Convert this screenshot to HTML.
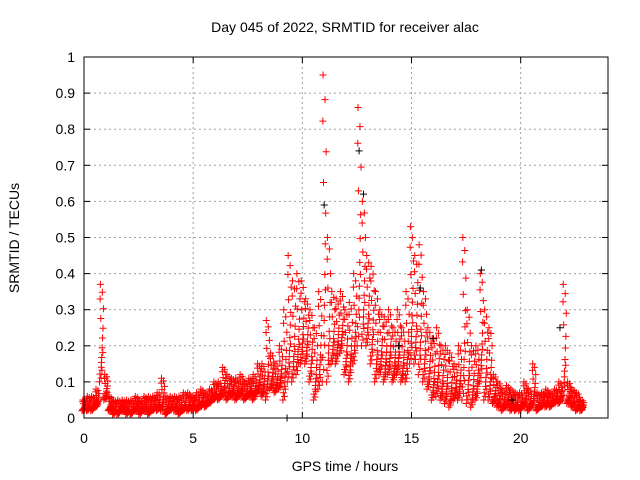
<!DOCTYPE html>
<html><head><meta charset="utf-8"><style>
body{margin:0;background:#fff}
svg{display:block;font-family:"Liberation Sans",sans-serif}
</style></head><body>
<svg id="chart" width="640" height="480">
<rect x="0" y="0" width="640" height="480" fill="#fff"/>
<text x="345" y="32" text-anchor="middle" font-size="14">Day 045 of 2022, SRMTID for receiver alac</text>
<text x="345" y="471" text-anchor="middle" font-size="14">GPS time / hours</text>
<text transform="translate(19,238) rotate(-90)" text-anchor="middle" font-size="14">SRMTID / TECUs</text>
<g id="grid"></g><g id="marks"></g><g id="axes"></g>
</svg>
<script>
const hours=[0,0.2,0.4,0.6,0.8,1.0,1.2,1.4,1.6,1.8,2.0,2.2,2.4,2.6,2.8,3.0,3.2,3.4,3.6,3.8,4.0,4.2,4.4,4.6,4.8,5.0,5.2,5.4,5.6,5.8,6.0,6.2,6.4,6.6,6.8,7.0,7.2,7.4,7.6,7.8,8.0,8.2,8.4,8.6,8.8,9.0,9.2,9.4,9.6,9.8,10.0,10.2,10.4,10.6,10.8,11.0,11.2,11.4,11.6,11.8,12.0,12.2,12.4,12.6,12.8,13.0,13.2,13.4,13.6,13.8,14.0,14.2,14.4,14.6,14.8,15.0,15.2,15.4,15.6,15.8,16.0,16.2,16.4,16.6,16.8,17.0,17.2,17.4,17.6,17.8,18.0,18.2,18.4,18.6,18.8,19.0,19.2,19.4,19.6,19.8,20.0,20.2,20.4,20.6,20.8,21.0,21.2,21.4,21.6,21.8,22.0,22.2,22.4,22.6,22.8];
const lowValues=[.02,.02,.02,.03,.1,.05,.02,.01,.01,.02,.01,.01,.02,.01,.02,.01,.02,.02,.02,.01,.02,.02,.01,.02,.02,.02,.02,.03,.03,.04,.05,.05,.06,.05,.06,.05,.06,.05,.06,.05,.07,.06,.05,.08,.07,.08,.05,.1,.1,.12,.15,.15,.1,.05,.08,.1,.1,.15,.15,.18,.12,.1,.15,.2,.2,.2,.15,.1,.12,.1,.12,.1,.12,.1,.1,.15,.15,.12,.1,.08,.05,.06,.05,.04,.03,.05,.05,.05,.04,.03,.05,.1,.05,.05,.04,.03,.02,.03,.02,.02,.02,.03,.02,.03,.02,.03,.03,.03,.04,.04,.05,.04,.03,.02,.02];
const highValues=[.05,.06,.06,.08,.37,.12,.06,.05,.05,.05,.05,.05,.06,.05,.06,.06,.06,.07,.11,.06,.06,.06,.06,.07,.07,.06,.07,.08,.07,.08,.1,.1,.14,.12,.11,.11,.12,.1,.11,.12,.15,.15,.27,.18,.15,.2,.3,.45,.38,.4,.38,.33,.3,.25,.35,.95,.5,.35,.33,.35,.3,.32,.4,.86,.6,.45,.42,.35,.3,.28,.3,.25,.3,.25,.35,.53,.45,.48,.35,.25,.22,.25,.2,.2,.18,.15,.2,.5,.3,.2,.2,.4,.3,.25,.12,.1,.08,.09,.08,.07,.07,.1,.08,.15,.07,.07,.08,.07,.08,.1,.37,.1,.08,.07,.05];
const blackHours=[9.3,11.0,12.6,12.8,14.4,15.4,16.0,18.2,19.6,21.8];
const blackValues=[0.0,0.59,0.74,0.62,0.2,0.36,0.22,0.41,0.05,0.25];
const xTicks=[0,5,10,15,20];
const yTicks=[0,0.1,0.2,0.3,0.4,0.5,0.6,0.7,0.8,0.9,1];
const L=84,R=608,T=57,B=418;
const X=h=>L+h/24*(R-L), Y=v=>B-v*(B-T);
const NS="http://www.w3.org/2000/svg";
function mk(tag,attrs,parent){const e=document.createElementNS(NS,tag);for(const k in attrs)e.setAttribute(k,attrs[k]);parent.appendChild(e);return e;}
const grid=document.getElementById('grid'),axes=document.getElementById('axes'),marks=document.getElementById('marks');
yTicks.forEach(v=>{const y=Y(v);
 if(v>0&&v<1){const g=mk('line',{x1:L,x2:R,y1:y,y2:y,stroke:'#a0a0a0','stroke-dasharray':'2,3','stroke-width':1},grid);
 
 }
 mk('line',{x1:L,x2:L+6,y1:y,y2:y,stroke:'#000'},axes);
 mk('line',{x1:R,x2:R-6,y1:y,y2:y,stroke:'#000'},axes);
 const t=mk('text',{x:L-9,y:y+5,'text-anchor':'end','font-size':14},axes);t.textContent=String(v);
 
 
});
xTicks.forEach(h=>{const x=X(h);
 if(h>0){const g=mk('line',{x1:x,x2:x,y1:T,y2:B,stroke:'#a0a0a0','stroke-dasharray':'2,3'},grid);
 
 }
 mk('line',{x1:x,x2:x,y1:B,y2:B-6,stroke:'#000'},axes);
 mk('line',{x1:x,x2:x,y1:T,y2:T+6,stroke:'#000'},axes);
 const t=mk('text',{x:x,y:B+25,'text-anchor':'middle','font-size':14},axes);t.textContent=String(h);
 
 
});
const frame=mk('rect',{x:L,y:T,width:R-L,height:B-T,fill:'none',stroke:'#000'},axes);


function plus(h,v,c){const x=X(h),y=Y(v);
 const p=mk('path',{d:`M${x-3.5},${y}h7M${x},${y-3.5}v7`,stroke:c,'stroke-width':1,fill:'none'},marks);
 return p;}
const offs=[-0.09,-0.05,-0.01,0.03,0.07,-0.07,0.01,0.05,-0.03,0.09,-0.06,0.04,0.0,-0.02,0.06,0.02];
const fr=[0,1,0.15,0.35,0.55,0.08,0.25,0.45,0.65,0.75,0.85,0.92,0.2,0.04,0.3,0.12];
hours.forEach((h,i)=>{const lo=lowValues[i],hi=highValues[i];
 fr.forEach((f,k)=>{const p=plus(h+offs[k],lo+(hi-lo)*f,'#ff0000');
  
  });
});
blackHours.forEach((h,i)=>{const p=plus(h,blackValues[i],'#000');
 
 });
</script>
</body></html>
